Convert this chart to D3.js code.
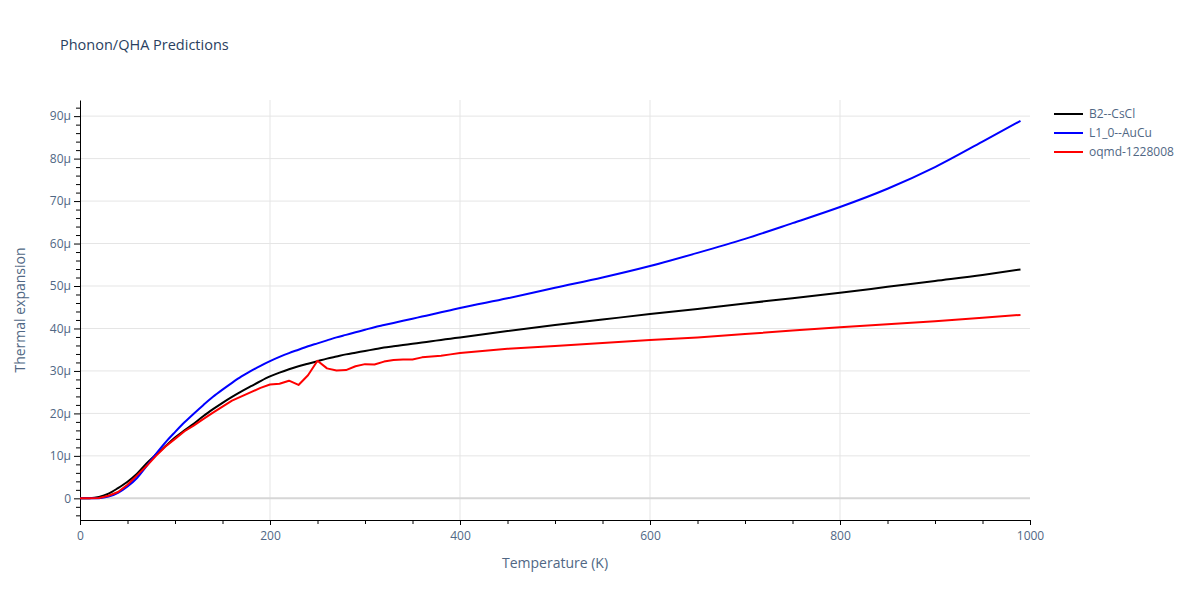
<!DOCTYPE html>
<html>
<head>
<meta charset="utf-8">
<script src="https://cdn.jsdelivr.net/npm/d3@7"></script>
<style>
  body { margin: 0; background: #fff; }
  text { font-family: "Open Sans", verdana, arial, sans-serif; }
</style>
</head>
<body>
<div class="qha-chart"></div>
<script>
// temperatures (K)
const temps = [0,10,20,30,40,50,60,70,80,90,100,110,120,130,140,150,160,170,180,190,
  200,210,220,230,240,250,260,270,280,290,300,310,320,330,340,350,360,370,380,390,400,
  450,500,550,600,650,700,750,800,850,900,950,990];

// thermal expansion, in units of 1e-6 (micro)
const b2CsCl = [0,0.05,0.35,1.1,2.4,3.9,5.8,8.2,10.3,12.3,14.3,16.0,17.6,19.4,21.0,22.5,23.9,25.2,26.4,27.6,
  28.7,29.6,30.4,31.1,31.7,32.3,32.9,33.4,33.9,34.3,34.7,35.1,35.5,35.8,36.1,36.4,36.7,37.0,37.3,37.6,37.9,
  39.4,40.8,42.1,43.4,44.6,45.9,47.1,48.4,49.8,51.2,52.6,53.9];
const l10AuCu = [0,0,0.05,0.4,1.3,2.8,4.8,7.6,10.5,13.2,15.6,17.9,20.0,22.0,23.9,25.6,27.2,28.7,30.0,31.2,
  32.3,33.3,34.2,35.0,35.8,36.5,37.2,37.9,38.5,39.1,39.7,40.3,40.8,41.3,41.8,42.3,42.8,43.3,43.8,44.3,44.8,
  47.1,49.6,52.0,54.7,57.8,61.1,64.8,68.6,72.9,78.0,84.0,88.9];
const oqmd = [0,0,0.1,0.6,1.5,3.2,5.4,7.6,10.0,12.2,14.0,15.8,17.2,18.7,20.2,21.6,23.0,24.0,25.0,26.0,
  26.8,27.0,27.7,26.7,29.0,32.4,30.6,30.1,30.2,31.1,31.6,31.5,32.2,32.6,32.7,32.7,33.2,33.4,33.6,33.9,34.2,
  35.2,35.9,36.6,37.3,37.9,38.7,39.5,40.3,41.0,41.7,42.5,43.2];

const seriesNames = ["B2--CsCl", "L1_0--AuCu", "oqmd-1228008"];
const seriesColors = ["#000000", "#0000ff", "#ff0000"];
const seriesValues = [b2CsCl, l10AuCu, oqmd];
// smooth curves for the two model series, raw segments for the noisy one
const seriesCurves = [d3.curveMonotoneX, d3.curveMonotoneX, d3.curveLinear];

const xTicks = [0, 200, 400, 600, 800, 1000];
const yTicks = [0, 10, 20, 30, 40, 50, 60, 70, 80, 90];

const width = 1200, height = 600;
const margin = {left: 80, right: 170, top: 100, bottom: 80};

const svg = d3.select(".qha-chart").append("svg")
    .attr("width", width)
    .attr("height", height)
    .attr("viewBox", [0, 0, width, height]);

const x = d3.scaleLinear().domain([0, 1000]).range([margin.left, width - margin.right]);
const y = d3.scaleLinear().domain([-5.1, 93.8]).range([height - margin.bottom, margin.top]);

/*Grid lines*/
svg.append("g").selectAll("line").data(xTicks.filter(d => d > 0 && d < 1000))
    .join("line")
    .attr("x1", d => x(d)).attr("x2", d => x(d))
    .attr("y1", margin.top).attr("y2", height - margin.bottom)
    .attr("stroke", "#e5e5e5");

svg.append("g").selectAll("line").data(yTicks.filter(d => d !== 0))
    .join("line")
    .attr("x1", margin.left).attr("x2", width - margin.right)
    .attr("y1", d => y(d)).attr("y2", d => y(d))
    .attr("stroke", "#e5e5e5");

svg.append("line")
    .attr("x1", margin.left).attr("x2", width - margin.right)
    .attr("y1", y(0)).attr("y2", y(0))
    .attr("stroke", "#d6d6d6")
    .attr("stroke-width", 2);

/*Axes*/
const fmtY = d => d === 0 ? "0" : d + "µ";

svg.append("g")
    .attr("transform", `translate(0,${height - margin.bottom})`)
    .call(d3.axisBottom(x).tickValues(xTicks).tickFormat(d3.format("d")).tickSize(5).tickPadding(6).tickSizeOuter(0));
svg.append("g")
    .attr("transform", `translate(0,${height - margin.bottom})`)
    .call(d3.axisBottom(x).tickValues(d3.range(50, 1000, 50).filter(d => d % 200 !== 0)).tickSize(4).tickFormat("").tickSizeOuter(0))
    .call(g => g.select(".domain").remove());

svg.append("g")
    .attr("transform", `translate(${margin.left},0)`)
    .call(d3.axisLeft(y).tickValues(yTicks).tickFormat(fmtY).tickSize(6).tickPadding(3).tickSizeOuter(0));
svg.append("g")
    .attr("transform", `translate(${margin.left},0)`)
    .call(d3.axisLeft(y).tickValues(d3.range(-4, 94, 2).filter(d => d % 10 !== 0)).tickSize(4).tickFormat("").tickSizeOuter(0))
    .call(g => g.select(".domain").remove());

svg.selectAll(".tick text")
    .attr("fill", "#506784")
    .style("font-size", "12px")
    .style("font-family", "'Open Sans', verdana, arial, sans-serif");
svg.selectAll(".domain").attr("stroke", "#000");
svg.selectAll(".tick line").attr("stroke", "#000");

/*Series lines*/
const lineGen = (vals, curve) => d3.line()
    .curve(curve)
    .x((d, i) => x(temps[i]))
    .y(d => y(d))(vals);

svg.append("g").selectAll("path").data(seriesValues)
    .join("path")
    .attr("d", (d, i) => lineGen(d, seriesCurves[i]))
    .attr("fill", "none")
    .attr("stroke", (d, i) => seriesColors[i])
    .attr("stroke-width", 2)
    .attr("stroke-linejoin", "round");

/*Titles*/
svg.append("text")
    .attr("x", 60).attr("y", 50)
    .attr("fill", "#2a3f5f")
    .style("font-size", "14.5px")
    .text("Phonon/QHA Predictions");

svg.append("text")
    .attr("x", (margin.left + width - margin.right) / 2)
    .attr("y", 568)
    .attr("text-anchor", "middle")
    .attr("fill", "#506784")
    .style("font-size", "14px")
    .text("Temperature (K)");

svg.append("text")
    .attr("transform", `translate(25,${(margin.top + height - margin.bottom) / 2}) rotate(-90)`)
    .attr("text-anchor", "middle")
    .attr("fill", "#506784")
    .style("font-size", "14px")
    .text("Thermal expansion");

/*Legend*/
const legend = svg.append("g").attr("transform", "translate(1054,114)");
const rows = legend.selectAll("g").data(seriesNames)
    .join("g")
    .attr("transform", (d, i) => `translate(0,${i * 19})`);
rows.append("line")
    .attr("x1", 0).attr("x2", 29)
    .attr("stroke", (d, i) => seriesColors[i])
    .attr("stroke-width", 2);
rows.append("text")
    .attr("x", 35).attr("dy", "0.35em")
    .attr("fill", "#506784")
    .style("font-size", "12px")
    .text(d => d);
</script>
</body>
</html>
